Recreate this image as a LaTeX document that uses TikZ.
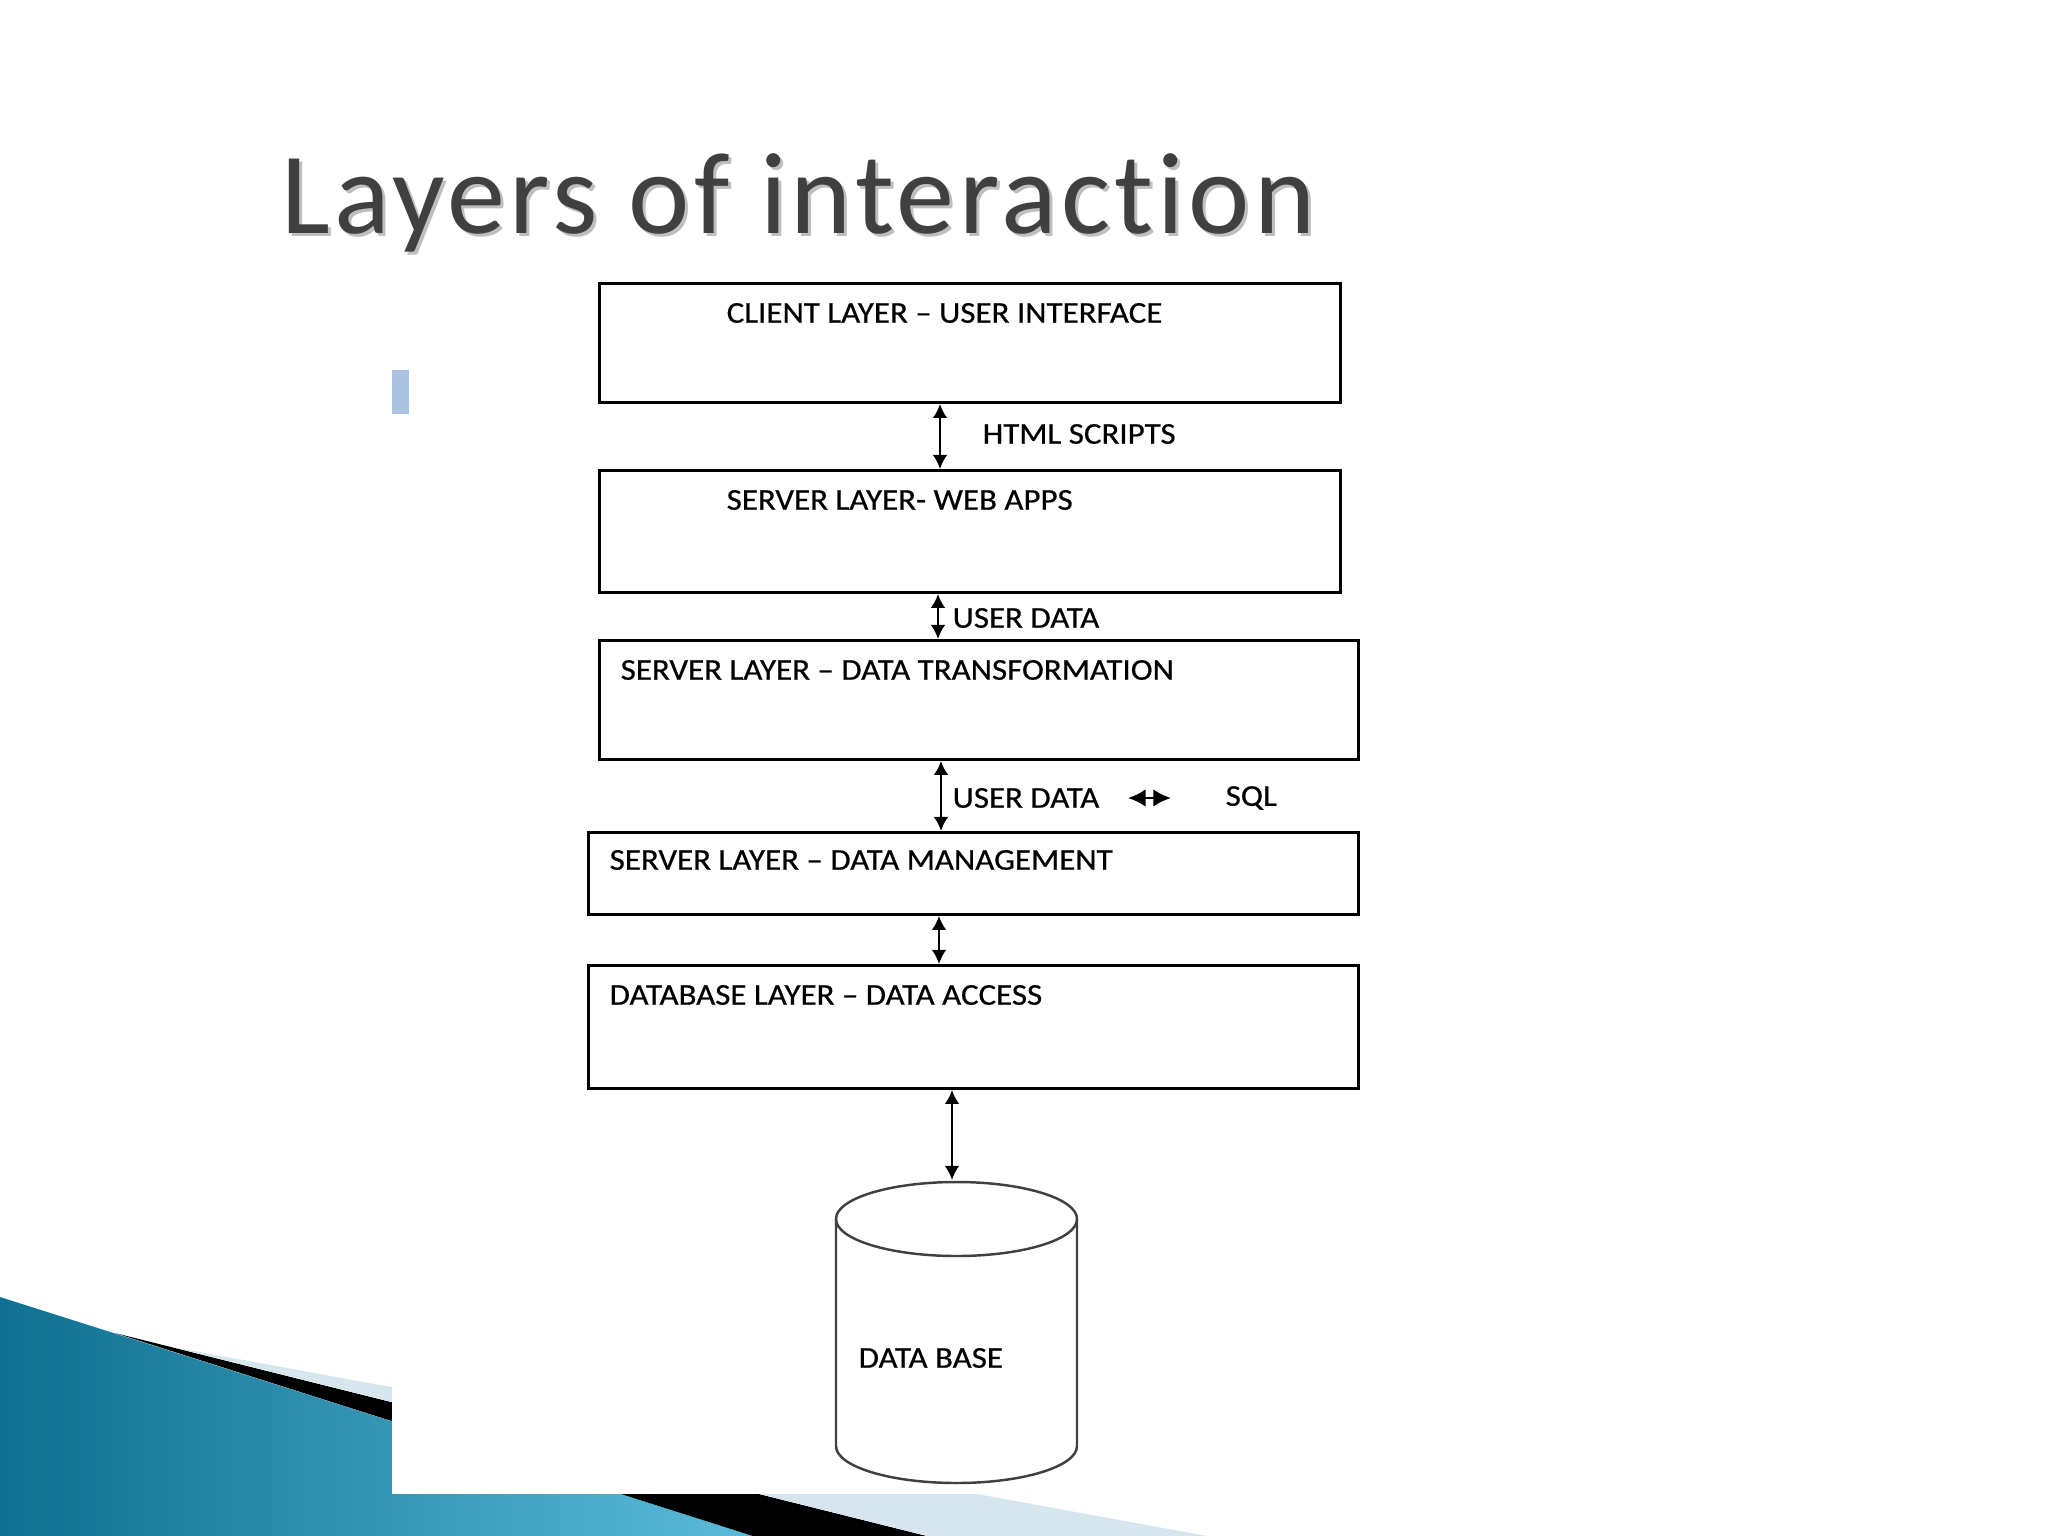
\documentclass[tikz,border=0pt]{standalone}
\usepackage{fontspec}
\setmainfont{Carlito}
\newfontfamily\boxfont{Carlito}[Ligatures=TeX,FakeStretch=1.09,FakeBold=0.6]
\newfontfamily\titlefont{Carlito}[Ligatures=NoCommon,LetterSpace=3.7]
\usetikzlibrary{positioning,arrows.meta}
\definecolor{titlegray}{HTML}{404040}
\definecolor{tealdark}{HTML}{0F6F90}
\definecolor{teallight}{HTML}{5CBBD9}
\definecolor{paleblue}{HTML}{D6E6EF}
\definecolor{bulletblue}{HTML}{A9C1E3}
\def\lbl#1#2#3{\node[lbl] (#2) at (#3) {#1}}
\tikzstyle{layer}=[draw,line width=0.8pt,inner sep=0pt,anchor=north west]
\tikzstyle{lbl}=[inner sep=0pt,anchor=west,font=\boxfont\fontsize{8.6}{10}\selectfont]
\tikzstyle{arr}=[{Latex[length=4pt,width=4.2pt]}-{Latex[length=4pt,width=4.2pt]},line width=0.7pt]
\tikzstyle{title}=[inner sep=0pt,anchor=base west,font=\titlefont\fontsize{33}{36}\selectfont]

\begin{document}
\begin{tikzpicture}[x=0.01cm,y=-0.01cm]
    \useasboundingbox (0,0) rectangle (2048,1536);
    \fill[white] (0,0) rectangle (2048,1536);
    % corner swoosh
    \shade[left color=tealdark,right color=teallight] (0,1297) -- (753,1536) -- (0,1536) -- cycle;
    \fill[black] (115,1333) -- (927,1536) -- (753,1536) -- cycle;
    \fill[paleblue] (172,1347) -- (1207,1536) -- (927,1536) -- cycle;
    \fill[white] (392,270) rectangle (1400,1494);
    \fill[bulletblue] (392,370) rectangle (409,414);
    % title
    \node[title,text=black!25] at (284,236) {Layers of interaction};
    \node[title,text=titlegray] (head) at (281,233) {Layers of interaction};
    % layers
    \node[layer,minimum width=7.41cm,minimum height=1.19cm] (client) at (598,282) {};
    \node[layer,minimum width=7.41cm,minimum height=1.22cm] (webapps) at (598,469) {};
    \node[layer,minimum width=7.59cm,minimum height=1.19cm] (transform) at (598,639) {};
    \node[layer,minimum width=7.70cm,minimum height=0.82cm] (manage) at (587,831) {};
    \node[layer,minimum width=7.70cm,minimum height=1.23cm] (access) at (587,964) {};
    \lbl{CLIENT LAYER -- USER INTERFACE}{clienttxt}{726,313};
    \lbl{SERVER LAYER- WEB APPS}{webtxt}{726,500};
    \lbl{SERVER LAYER -- DATA TRANSFORMATION}{transtxt}{620,670};
    \lbl{SERVER LAYER -- DATA MANAGEMENT}{managetxt}{609,860};
    \lbl{DATABASE LAYER -- DATA ACCESS}{accesstxt}{609,995};
    \lbl{HTML SCRIPTS}{html}{982,434};
    \lbl{USER DATA}{ud1}{952,618};
    \lbl{USER DATA}{ud2}{952,798};
    \lbl{SQL}{sql}{1225,798};
    % database
    \draw[black!75,line width=0.7pt] (1077,1219) arc (0:360:120.5 and 37);
    \draw[black!75,line width=0.7pt] (836,1219) -- (836,1446) arc (180:0:120.5 and 37) -- (1077,1219);
    \coordinate (dbtop) at (952,1180);
    \lbl{DATA BASE}{dbtxt}{858,1358};
    % links
    \draw[arr] (940,0 |- client.south) -- (940,0 |- webapps.north);
    \draw[arr] (938,0 |- webapps.south) -- (938,0 |- transform.north);
    \draw[arr] (941,0 |- transform.south) -- (941,0 |- manage.north);
    \draw[arr] (939,0 |- manage.south) -- (939,0 |- access.north);
    \draw[arr] (952,0 |- access.south) -- (dbtop);
    \draw[{Latex[length=5pt,width=5pt]}-{Latex[length=5pt,width=5pt]},line width=0.8pt]
      ([xshift=-0.97cm]sql.west |- ud2.east) -- ([xshift=-0.54cm]sql.west |- ud2.east);
\end{tikzpicture}
\end{document}
